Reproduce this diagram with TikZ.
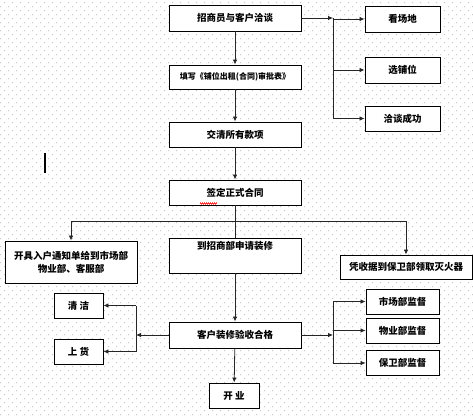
\documentclass[tikz,border=0pt]{standalone}
\usepackage{fontspec}
\newfontfamily\cjk{Noto Sans CJK SC}
\usetikzlibrary{arrows.meta,decorations.pathmorphing}
\tikzset{
  box/.style={draw=black, line width=0.9pt, fill=white, inner sep=1pt, align=center,
    font=\cjk\bfseries\fontsize{9.5}{13}\selectfont},
  arr/.style={draw=black!85, line width=0.8pt, -{Latex[length=5pt,width=4.5pt]}},
  ln/.style={draw=black!85, line width=0.8pt},
}
\begin{document}
\begin{tikzpicture}[x=1pt,y=-1pt]
\useasboundingbox (0,0) rectangle (473,415);
% dotted background grid
\fill[gray!45] \foreach \j in {0,...,103} {
  \foreach \i in {0,...,59} {
    ({8*\i+4*(1-mod(\j,2))},{2+4*\j}) rectangle ++(1,1)
  }
};
% main column
\node[box, minimum width=132pt, minimum height=26pt] (b1) at (235,18) {招商员与客户洽谈};
\node[box, minimum width=132pt, minimum height=24pt, font=\cjk\bfseries\fontsize{8}{10}\selectfont] (b2) at (235,77) {填写《铺位出租(合同)审批表》};
\node[box, minimum width=132pt, minimum height=25pt] (b3) at (235,134.5) {交清所有款项};
\node[box, minimum width=132pt, minimum height=25pt] (b4) at (235,192.5) {签定正式合同};
\node[box, minimum width=132pt, minimum height=35pt] (m5) at (235,255.5) {到招商部申请装修\\[8pt]\mbox{}};
\node[box, minimum width=132pt, minimum height=42pt] (lt) at (71,262) {开具入户通知单给到市场部\\物业部、客服部};
\node[box, minimum width=132pt, minimum height=24pt] (rt) at (406,267) {凭收据到保卫部领取灭火器};
\node[box, minimum width=132pt, minimum height=26pt] (c) at (235,335) {客户装修验收合格};
\node[box, minimum width=49pt, minimum height=25pt] (q1) at (78.5,305.5) {清\ 洁};
\node[box, minimum width=49pt, minimum height=25pt] (q2) at (78.5,351.5) {上\ 货};
\node[box, minimum width=50pt, minimum height=25pt] (ky) at (234,395.5) {开\ 业};
% right top
\node[box, minimum width=75pt, minimum height=26pt] (r1) at (402.5,19) {看场地};
\node[box, minimum width=75pt, minimum height=26pt] (r2) at (402.5,70) {选铺位};
\node[box, minimum width=75pt, minimum height=25pt] (r3) at (402.5,118.5) {洽谈成功};
% right bottom
\node[box, minimum width=73pt, minimum height=25pt] (s1) at (402.5,301.5) {市场部监督};
\node[box, minimum width=73pt, minimum height=25pt] (s2) at (402.5,330.5) {物业部监督};
\node[box, minimum width=73pt, minimum height=25pt] (s3) at (402.5,363) {保卫部监督};
% junction coordinates
\coordinate (j1) at (333,18);
\coordinate (j2) at (235,221);
\coordinate (jl) at (136,335);
\coordinate (jr) at (333,335);
% top branch
\draw[arr] (b1.east |- j1) -- (j1);
\draw[ln] (j1) -- (j1 |- r3);
\draw[arr] (j1 |- r1) -- (r1.west);
\draw[arr] (j1 |- r2) -- (r2.west);
\draw[arr] (j1 |- r3) -- (r3.west);
% main chain
\draw[arr] (b1) -- (b2);
\draw[arr] (b2) -- (b3);
\draw[arr] (b3) -- (b4);
\draw[ln] (b4) -- (m5);
\draw[ln] (j2 -| lt) -- (j2 -| rt);
\draw[arr] (j2 -| lt) -- (lt.north);
\draw[arr] (j2 -| rt) -- (rt.north);
\draw[arr] (m5) -- (c);
\draw[arr] (c) -- (ky);
% left branch
\draw[arr] (c.west) -- (jl);
\draw[ln] (jl |- q1) -- (jl |- q2);
\draw[arr] (jl |- q1) -- (q1.east);
\draw[arr] (jl |- q2) -- (q2.east);
% right branch
\draw[arr] (c.east) -- (jr);
\draw[ln] (jr |- s1) -- (jr |- s3);
\draw[arr] (jr |- s1) -- (s1.west);
\draw[arr] (jr |- s2) -- (s2.west);
\draw[arr] (jr |- s3) -- (s3.west);
% text cursor artefact and spell-check mark
\draw[line width=2pt] (45,153) -- (45,173);
\draw[red, line width=0.5pt, decorate, decoration={zigzag, amplitude=0.8pt, segment length=2pt}] (200,203.5) -- (217,203.5);
\end{tikzpicture}
\end{document}
